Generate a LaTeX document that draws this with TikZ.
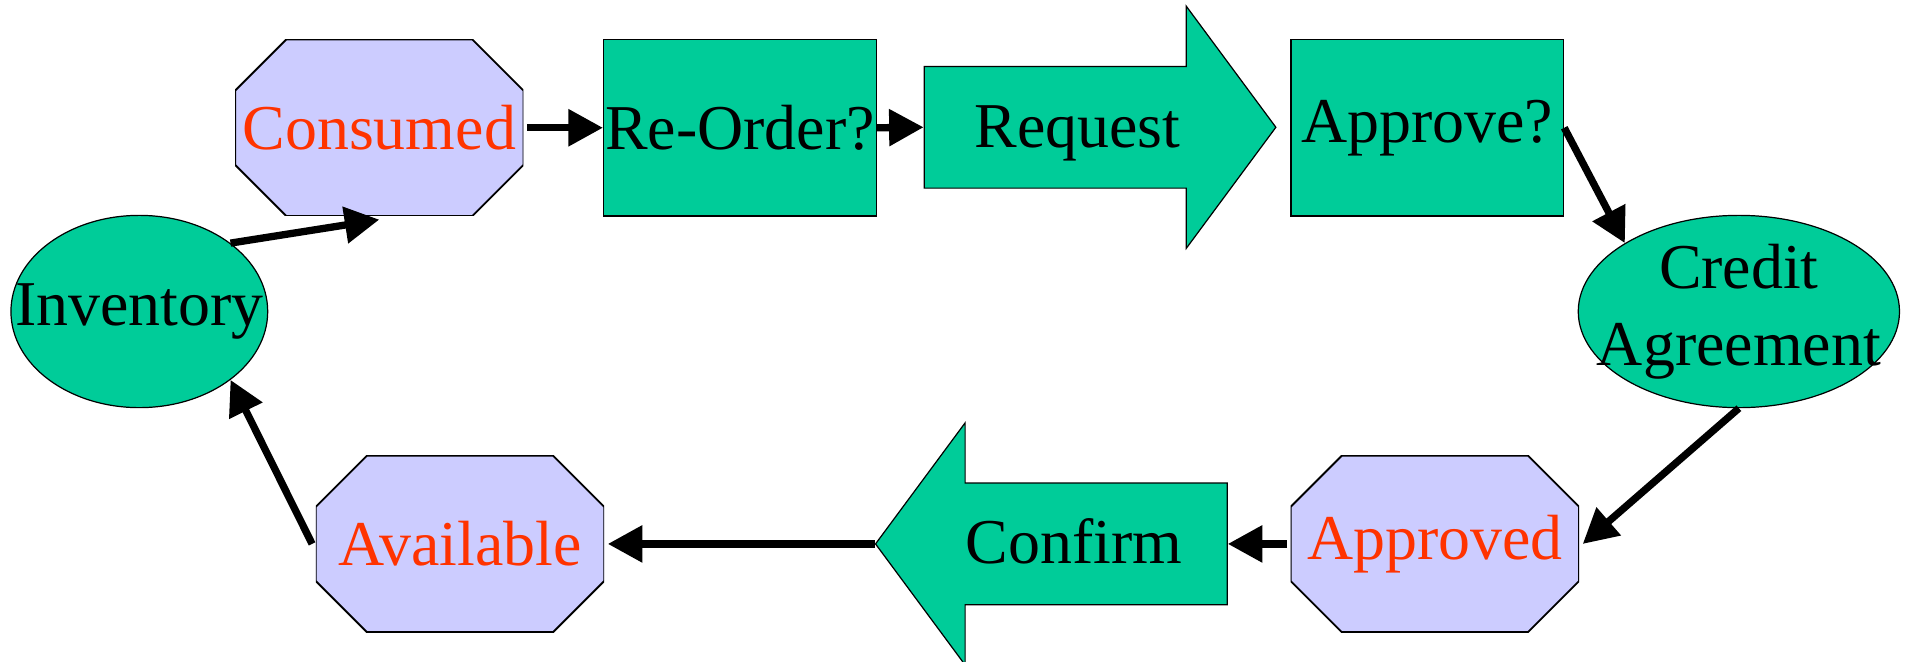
\documentclass[tikz,border=0pt]{standalone}
\usepackage{fontspec}
\setmainfont{Liberation Serif}
\usetikzlibrary{shapes, arrows.meta, positioning}

\definecolor{boxgreen}{HTML}{00CC99}
\definecolor{stateblue}{HTML}{CCCCFF}
\definecolor{statered}{HTML}{FF3300}

\begin{document}
\begin{tikzpicture}[x=0.6pt, y=-0.6pt, >={Triangle[length=17pt, width=17.5pt]}]
    \tikzstyle{base} = [draw, line width=0.6pt, inner sep=0pt,
	font=\fontsize{31.5}{38}\selectfont]
    \tikzstyle{task} = [base, rectangle, fill=boxgreen,
	minimum width=134.4pt, minimum height=87pt]
    \tikzstyle{state} = [rectangle, inner sep=0pt, text=statered,
	font=\fontsize{31.5}{38}\selectfont, minimum width=142.2pt,
	minimum height=87pt, path picture={
	    \path[draw, -, fill=stateblue, line width=0.9pt]
		([xshift=25.2pt]path picture bounding box.north west)
		-- ([xshift=-25.2pt]path picture bounding box.north east)
		-- ([yshift=-25.2pt]path picture bounding box.north east)
		-- ([yshift=25.2pt]path picture bounding box.south east)
		-- ([xshift=-25.2pt]path picture bounding box.south east)
		-- ([xshift=25.2pt]path picture bounding box.south west)
		-- ([yshift=25.2pt]path picture bounding box.south west)
		-- ([yshift=-25.2pt]path picture bounding box.north west)
		-- cycle;}]
    \tikzstyle{pool} = [base, ellipse, fill=boxgreen, inner xsep=-20pt,
	inner ysep=-5pt, minimum height=94.8pt]
    \tikzstyle{flow} = [base, single arrow, fill=boxgreen,
	text height=39.5pt, text depth=19.9pt,
	minimum height=173.4pt, minimum width=118.8pt,
	single arrow head extend=29.7pt, single arrow tip angle=107]

	\useasboundingbox (0,0) rectangle (1568,544);

	\path[->, line width=3.6pt]
		node[pool, minimum width=126.6pt] (inv) at (114.5,256) {Inventory}
		node[state] (cons) at (311.7,105) {Consumed}
		node[task] (reorder) at (608,105) {Re-Order?}
		node[flow, anchor=tail] (req) at (759,104.6) {Request}
		node[task] (appr) at (1173,105) {Approve?}
		node[pool, minimum width=158.4pt, align=center] (credit)
			at (1429,256) {Credit\\Agreement}
		node[state] (apprd) at (1179.2,447) {Approved}
		node[flow, shape border rotate=180, anchor=tail] (conf)
			at (1009,447) {Confirm}
		node[state] (avail) at (378,447) {Available}

		(inv.north east) edge (cons.south)
		(cons.east) edge (reorder.west)
		(reorder.east) edge (req.tail)
		(appr.east) edge (credit.north west)
		(credit.south) edge (apprd.east)
		(apprd.west) edge (conf.tail)
		(conf.tip) edge (avail.east)
		(avail.west) edge (inv.south east)
	;
\end{tikzpicture}
\end{document}
